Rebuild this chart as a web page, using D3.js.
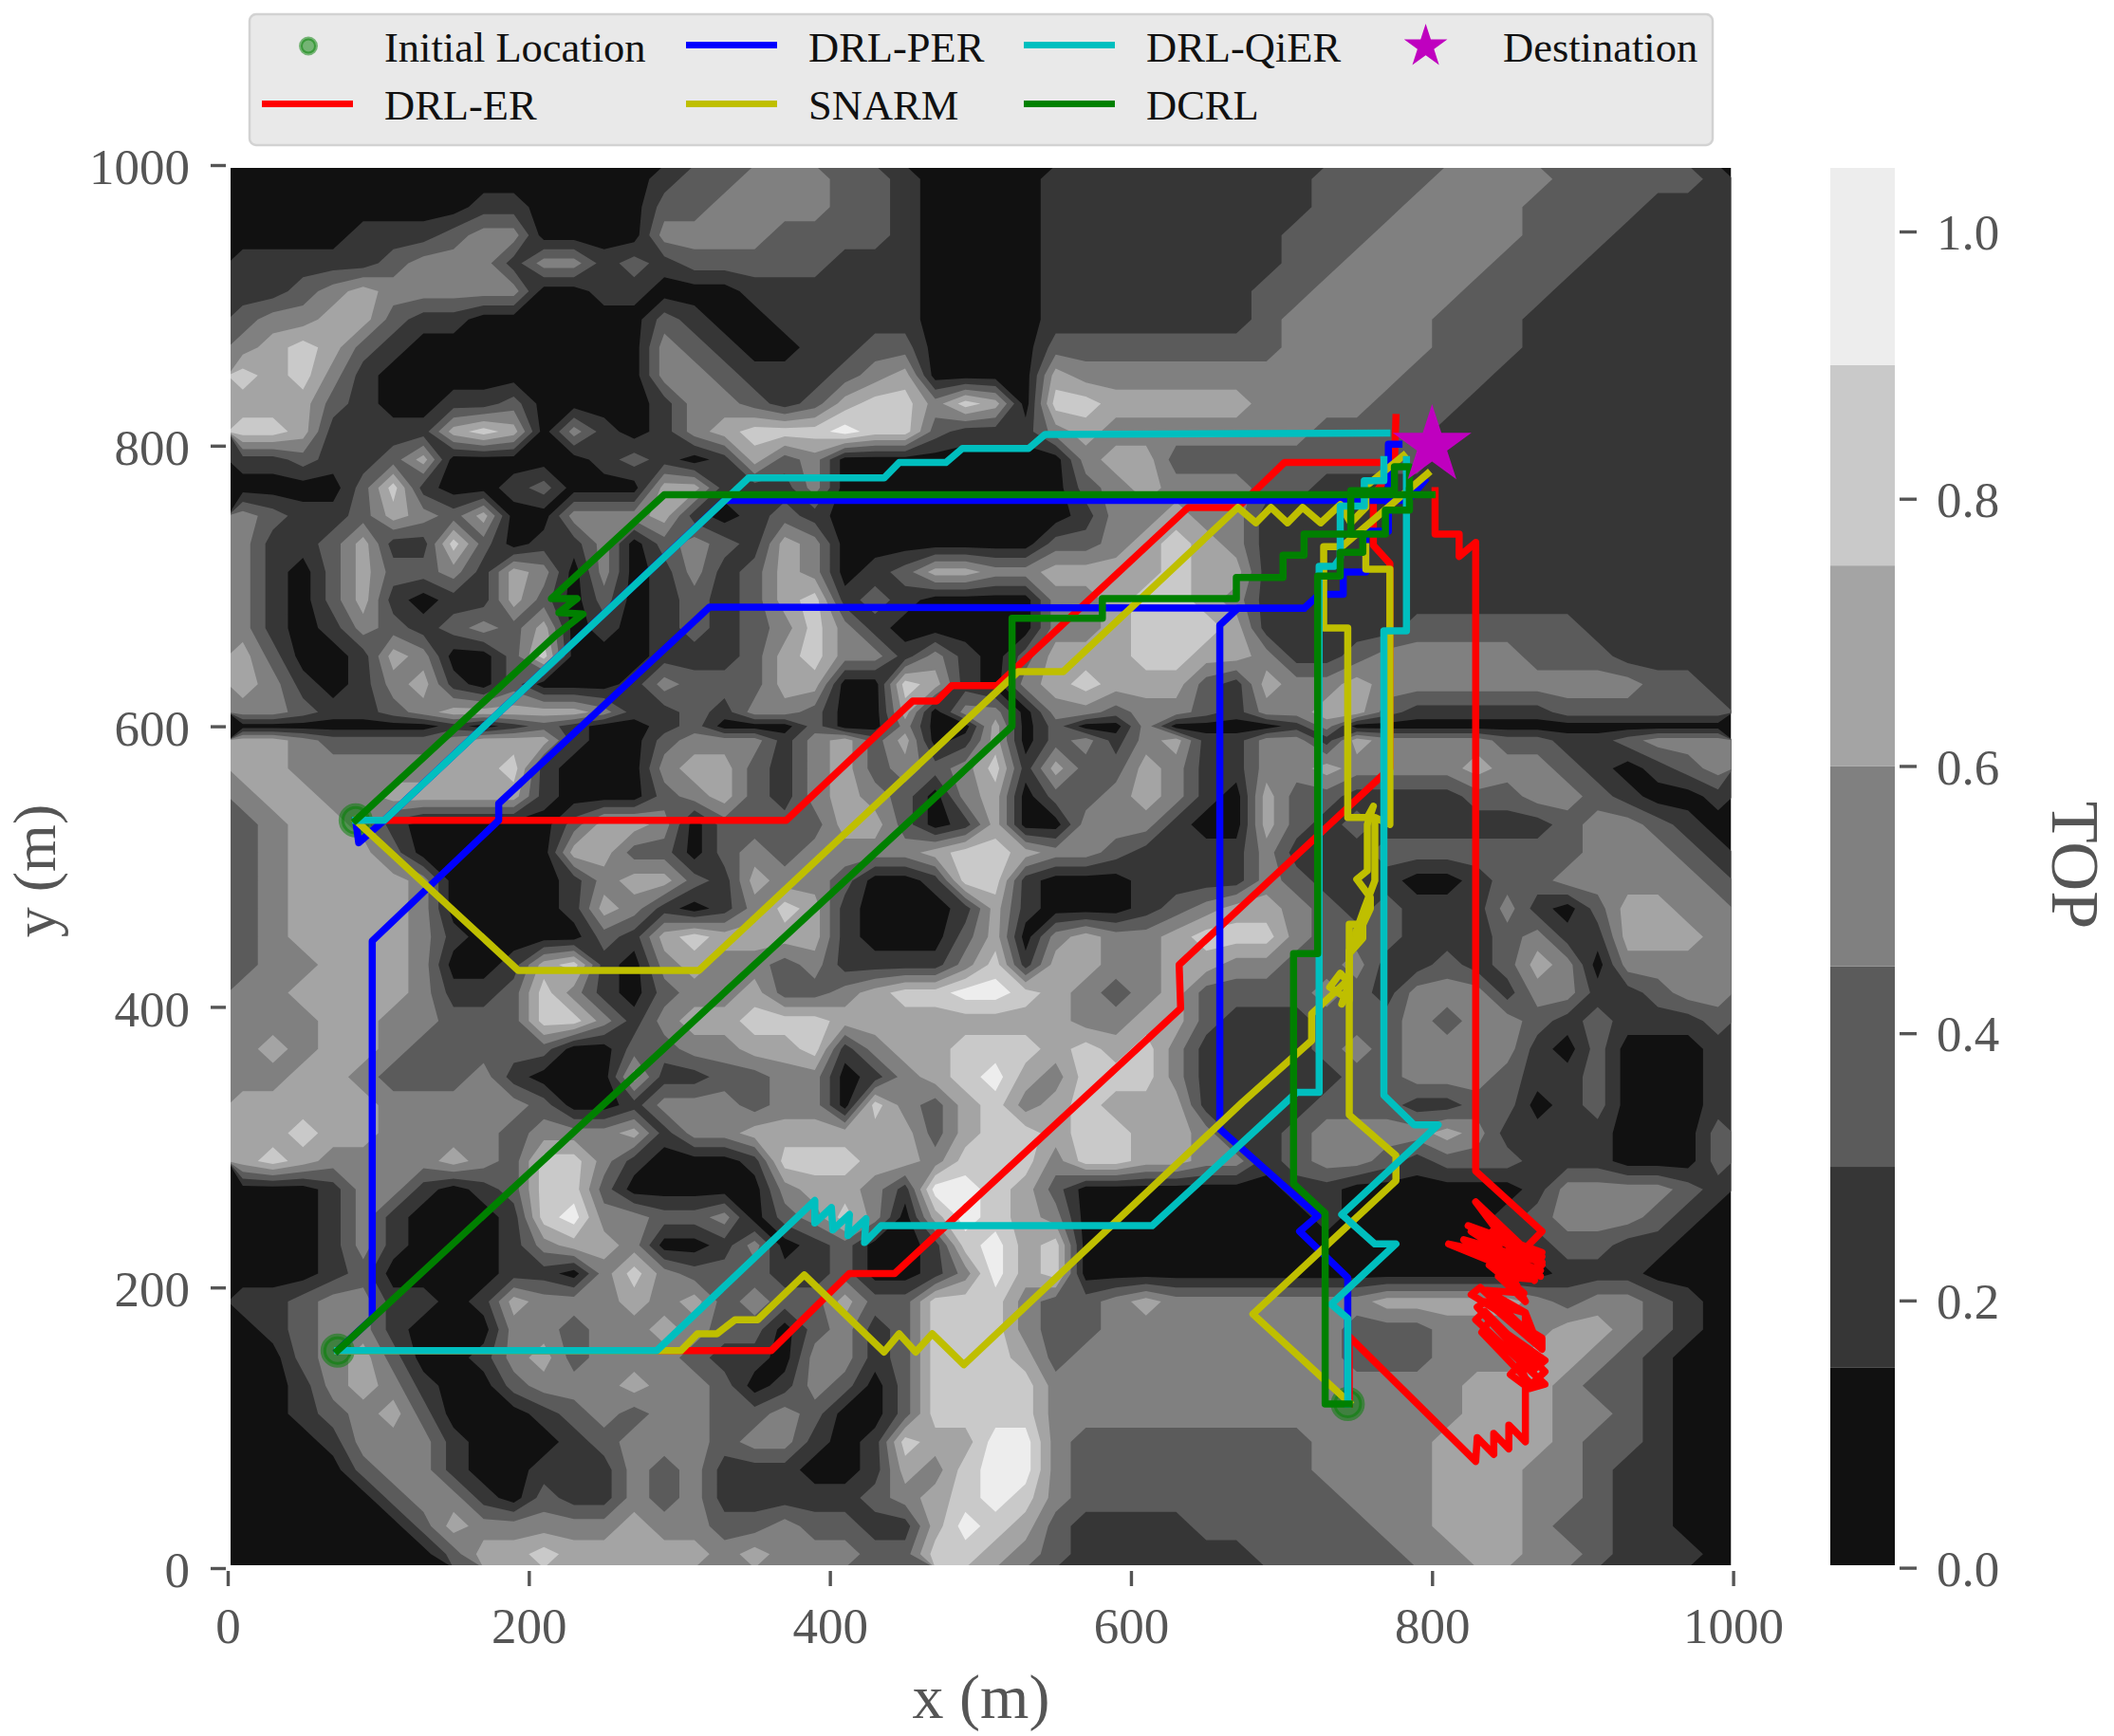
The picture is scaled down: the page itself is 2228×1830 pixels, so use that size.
<!DOCTYPE html>
<html><head><meta charset="utf-8">
<script src="https://cdn.jsdelivr.net/npm/d3@7"></script>
<style>html,body{margin:0;padding:0;background:#fff}svg{display:block}text{font-family:"Liberation Serif","Times New Roman",serif}</style>
</head><body><svg id="c" width="2228" height="1830"></svg>
<script>
// TOP field: one digit = colour band index, one row per y, top row first.
const rowY = [990,970,950,930,910,890,870,850,830,810,790,770,750,730,710,690,670,650,630,610,600,590,570,550,530,510,490,470,450,430,410,390,370,350,330,310,290,270,250,230,210,190,170,150,130,110,90,70,50,30,10];
const topRows = [
"00000000000000122333221000011111111122223333222221",
"00000000110000223333221000011111111122233332222111",
"00001112330000333322221000011111111222333332221111",
"11111233313312122222111000011111111223333322211111",
"11234333330011000111111000011111112233333222111111",
"23344211000000210011111000011111112333332221111111",
"34542100000000321001122000022222222333332221111111",
"54531000000000332111234000043333333333322211111111",
"44421001120000133212455354055444443333222111111111",
"55411114540310134555655211134333333322221111111111",
"11211240000012101423000000003442222222221111111111",
"00002510012000441113000000002343332211111111111111",
"32112432400333410121000000001334331111111111111111",
"31124115201130232143000000022345431111111111111111",
"31024223143030131243012443344445441111111111111111",
"31024101142020121245121000033455431111111111111111",
"31013212324010121235310000033455541111122222211111",
"42001430025000111245331310244455443112333332221111",
"43101341020001322244005410345444214334333333333221",
"33211234444431121332004033033233213344211111222222",
"00000001012100120002003004020030000130000000000000",
"44322223444100233313424014023134113314333322112333",
"44333334451000344213423235142243113343333433210123",
"34433444441000234213432034022343104221111223321001",
"23443100000244302222442014003331004212111111233210",
"23444200000442202323333455433211113111222222233321",
"23444430000134421433200155100011113211100122333332",
"23444430000143101354100014100012344321211131024433",
"23444431000021454444100024034334555322211123114443",
"23344430014510343323111135144334433223112124303333",
"33444431125310233422345566543234222232133313311233",
"33344332225531344555444444443344211122232332121112",
"34344322222002233445134455545453111123233331020001",
"33443222310004112233013456435553111112233321120001",
"44444333332001333233053245345444111122211220120001",
"44544333323334133444444245545544311233334311110002",
"45433334325531000155544355535544331233212221110002",
"00013310125520000034431665420000000110000001333321",
"00013100015633223023530465430000000010000012333210",
"00013100013443001301200156450000000000000001221100",
"00012000011035322211200136450000000000000000111000",
"11233110143334342322422555322343333333444443233210",
"01233100033233432202312555322333333332223333443210",
"00234200134233321103312555423333333332223334432100",
"00134310023334332013202555533333333333333444322100",
"00123420001232332232002555533333333333333444332100",
"00013331000123332331015446632222222233334444322100",
"00002331001113231110014356632222222233334443321100",
"00000233102113231111123456532222222223334443321100",
"00000024333334332232211465421111222222334443221100",
"00000002445444443433322554321111112222233443321110"
];
const bandEdges = [0,0.15,0.30,0.45,0.60,0.75,0.90,1.05];
const bandColours = ["#111111","#363636","#5b5b5b","#808080","#a4a4a4","#c9c9c9","#ededed"];
const xTicks = [0,200,400,600,800,1000];
const yTicks = [0,200,400,600,800,1000];
const cbTicks = [0,0.2,0.4,0.6,0.8,1.0];
const starts = [[85,533],[73,155],[744,117]];
const destination = [800,800];

const drlEr = [
 [[85,533],[371,533],[455,618],[471,618],[481,629],[511,629],[638,756],[671,756],[702,788],[775,788],[776,820]],
 [[73,155],[361,155],[413,210],[443,210],[633,399],[632,430],[764,562],[772,570],[772,716],[761,729],[761,765],[776,785]],
 [[745,117],[745,165],[829,76],[830,93],[841,81],[841,96],[851,85],[851,102],[862,90],[862,130],[852,138],[858,145],[865,128],[875,131],[829,177],[835,183],[875,140],[866,131],[833,168],[838,176],[875,148],[868,142],[830,186],[836,190],[873,156],[873,164],[826,195],[832,200],[862,170],[862,182],[834,190],[846,186],[870,160],[862,182],[836,198],[861,196],[838,216],[866,206],[844,208],[862,190],[850,214],[811,231],[820,229],[866,210],[873,218],[821,234],[872,212],[828,226],[872,208],[826,240],[873,222],[824,244],[873,225],[832,240],[868,205],[829,261],[873,216],[840,240],[862,228],[873,240],[829,283],[829,731],[818,721],[818,737],[802,737],[802,768]]
];
const drlPer = [
 [[85,533],[87,517],[104,533],[330,761],[784,761],[795,775]],
 [[73,155],[96,178],[96,447],[180,533],[180,545],[320,685],[715,684],[725,694],[741,694],[741,710],[756,710],[756,739],[771,739],[771,801],[778,801]],
 [[744,117],[744,207],[712,240],[724,251],[659,313],[659,672],[671,684],[714,684]]
];
const snarm = [
 [[85,533],[193,426],[313,426],[525,639],[555,639],[671,756],[683,745],[693,756],[704,745],[714,756],[726,745],[739,758],[746,745],[756,756],[756,771],[781,793]],
 [[73,155],[301,155],[312,167],[325,167],[337,177],[352,177],[383,209],[436,154],[446,167],[457,154],[468,167],[489,145],[674,332],[720,376],[720,395],[736,411],[745,420],[745,405],[732,414],[739,424],[745,417],[740,402],[745,412],[745,440],[755,470],[762,490],[762,535],[772,530],[772,712],[756,712],[756,728]],
 [[745,118],[681,181],[776,276],[776,294],[745,323],[745,459],[754,459],[754,449],[745,438],[759,470],[759,478],[750,491],[757,497],[757,530],[761,543],[757,535],[744,535],[744,670],[728,670],[728,728],[740,728],[797,780]]
];
const drlQier = [
 [[85,533],[104,533],[346,777],[436,777],[446,788],[477,788],[488,798],[532,798],[543,808],[770,809]],
 [[73,155],[285,155],[390,262],[390,246],[401,257],[402,241],[413,252],[412,237],[424,249],[423,232],[434,244],[614,244],[710,339],[725,339],[725,714],[735,714],[739,720],[739,757],[755,757],[755,775],[768,775],[768,790]],
 [[744,117],[744,178],[733,188],[776,231],[762,231],[740,252],[804,316],[788,316],[768,337],[768,668],[783,668],[783,790]]
];
const dcrl = [
 [[85,533],[218,665],[236,680],[220,681],[232,691],[215,691],[290,765],[800,765]],
 [[73,155],[521,600],[521,677],[581,677],[581,691],[670,691],[670,706],[701,706],[701,722],[715,722],[715,737],[769,737],[769,754],[785,754],[785,768]],
 [[745,117],[729,117],[729,253],[708,274],[708,438],[724,438],[724,707],[739,707],[739,724],[754,724],[754,737],[746,737],[746,768],[775,768],[775,785],[785,785],[785,768]]
];
const seriesDraw = [
 {name:"DRL-ER",colour:"#ff0000",paths:drlEr},
 {name:"DRL-PER",colour:"#0000ff",paths:drlPer},
 {name:"SNARM",colour:"#bfbf00",paths:snarm},
 {name:"DRL-QiER",colour:"#00bfbf",paths:drlQier},
 {name:"DCRL",colour:"#008000",paths:dcrl}
];

const svg = d3.select("#c");
const x = d3.scaleLinear([0,1000],[240,1826.6]);
const y = d3.scaleLinear([0,1000],[1653,174]);
const plot = {l:243,r:1824.5,t:177,b:1650};
svg.append("clipPath").attr("id","pc").append("rect")
  .attr("x",plot.l).attr("y",plot.t).attr("width",plot.r-plot.l).attr("height",plot.b-plot.t);

// contour bands
const nx = topRows[0].length, ny = topRows.length;
const values = [];
topRows.forEach(r=>{for(let i=0;i<nx;i++){values.push(0.075+0.15*(+r[i]||0));}});
const vDomain=[0], vRange=[1000];
rowY.forEach((yy,j)=>{vDomain.push(j+0.5);vRange.push(yy);});
vDomain.push(ny);vRange.push(0);
const vToY = d3.scaleLinear(vDomain,vRange);
const proj = d3.geoTransform({point(u,v){this.stream.point(x(u*20),y(vToY(v)));}});
const gp = d3.geoPath(proj);
const cg = svg.append("g").attr("clip-path","url(#pc)");
cg.append("rect").attr("x",plot.l).attr("y",plot.t).attr("width",plot.r-plot.l).attr("height",plot.b-plot.t).attr("fill",bandColours[0]);
const cs = d3.contours().size([nx,ny]).thresholds(bandEdges.slice(1,7))(values);
cg.selectAll("path.b").data(cs).join("path").attr("class","b").attr("d",gp).attr("fill",(d,i)=>bandColours[i+1]);

// axes
function styleAxis(g,size){
  g.select(".domain").remove();
  g.selectAll("line").attr("stroke","#555555").attr("stroke-width",3.4);
  g.selectAll("text").attr("fill","#555555").attr("font-size",size).attr("font-family",'"Liberation Serif",serif');
}
svg.append("g").attr("transform","translate(0,1656)")
  .call(d3.axisBottom(x).tickValues(xTicks).tickSize(16).tickPadding(22).tickFormat(d3.format("d"))).call(styleAxis,53);
const yAxisG = svg.append("g").attr("transform","translate(238,0)")
  .call(d3.axisLeft(y).tickValues(yTicks).tickSize(16).tickPadding(22).tickFormat(d3.format("d"))).call(styleAxis,53);
yAxisG.selectAll("text").attr("dy","0.37em");
svg.append("text").attr("x",1034).attr("y",1811).attr("text-anchor","middle").attr("font-size",66).attr("fill","#555555").text("x (m)");
svg.append("text").attr("transform","translate(58,918) rotate(-90)").attr("text-anchor","middle").attr("font-size",64).attr("fill","#555555").text("y (m)");

// markers + lines
const mg = svg.append("g");
mg.selectAll("circle").data(starts).join("circle")
  .attr("cx",d=>x(d[0])).attr("cy",d=>y(d[1])).attr("r",15)
  .attr("fill","rgba(0,128,0,0.5)").attr("stroke","rgba(0,128,0,0.5)").attr("stroke-width",6);
const line = d3.line().x(d=>x(d[0])).y(d=>y(d[1]));
seriesDraw.forEach(s=>{
  svg.append("g").selectAll("path").data(s.paths).join("path").attr("d",line)
    .attr("fill","none").attr("stroke",s.colour).attr("stroke-width",7.5)
    .attr("stroke-linejoin","round").attr("stroke-linecap","square");
});
const star = R=>d3.symbol(d3.symbolStar,R*R/0.8908130915292852)();
svg.append("path").attr("d",star(43.7)).attr("transform",`translate(${x(destination[0])},${y(destination[1])})`).attr("fill","#bf00bf");

// colourbar
const cbX=1929,cbW=68;
const cbY=d3.scaleLinear([0,1],[1652.6,244]);
svg.append("g").selectAll("rect").data(bandColours).join("rect")
  .attr("x",cbX).attr("width",cbW)
  .attr("y",(d,i)=>Math.max(177,cbY(bandEdges[i+1])))
  .attr("height",(d,i)=>Math.min(1650,cbY(bandEdges[i]))-Math.max(177,cbY(bandEdges[i+1])))
  .attr("fill",d=>d);
const cbAxisG = svg.append("g").attr("transform","translate(2002,0)")
  .call(d3.axisRight(cbY).tickValues(cbTicks).tickSize(18).tickPadding(21).tickFormat(d3.format(".1f"))).call(styleAxis,53);
cbAxisG.selectAll("text").attr("dy","0.35em");
svg.append("text").attr("transform","translate(2163,912) rotate(90)").attr("text-anchor","middle").attr("font-size",72).attr("fill","#555555").text("TOP");

// legend
const lg = svg.append("g");
lg.append("rect").attr("x",263).attr("y",15).attr("width",1542).attr("height",138).attr("rx",7)
  .attr("fill","#e9e9e9").attr("stroke","#d2d2d2").attr("stroke-width",2.5);
const legendLines=[
 {t:"DRL-ER",c:"#ff0000",x0:276,tx:405,row:1},
 {t:"DRL-PER",c:"#0000ff",x0:723,tx:852,row:0},
 {t:"SNARM",c:"#bfbf00",x0:723,tx:852,row:1},
 {t:"DRL-QiER",c:"#00bfbf",x0:1079,tx:1208,row:0},
 {t:"DCRL",c:"#008000",x0:1079,tx:1208,row:1}
];
const rowTextY=[64.5,125.5], rowLineY=[47.5,109.5];
legendLines.forEach(d=>{
  lg.append("line").attr("x1",d.x0).attr("x2",d.x0+96).attr("y1",rowLineY[d.row]).attr("y2",rowLineY[d.row]).attr("stroke",d.c).attr("stroke-width",7);
  lg.append("text").attr("x",d.tx).attr("y",rowTextY[d.row]).attr("font-size",44.5).attr("fill","#111").text(d.t);
});
lg.append("circle").attr("cx",325).attr("cy",48.5).attr("r",8).attr("fill","rgba(0,128,0,0.5)").attr("stroke","rgba(0,128,0,0.5)").attr("stroke-width",4);
lg.append("text").attr("x",405).attr("y",64.5).attr("font-size",44.5).attr("fill","#111").text("Initial Location");
lg.append("path").attr("d",star(24)).attr("transform","translate(1502.6,49)").attr("fill","#bf00bf");
lg.append("text").attr("x",1584).attr("y",64.5).attr("font-size",44.5).attr("fill","#111").text("Destination");
</script></body></html>
